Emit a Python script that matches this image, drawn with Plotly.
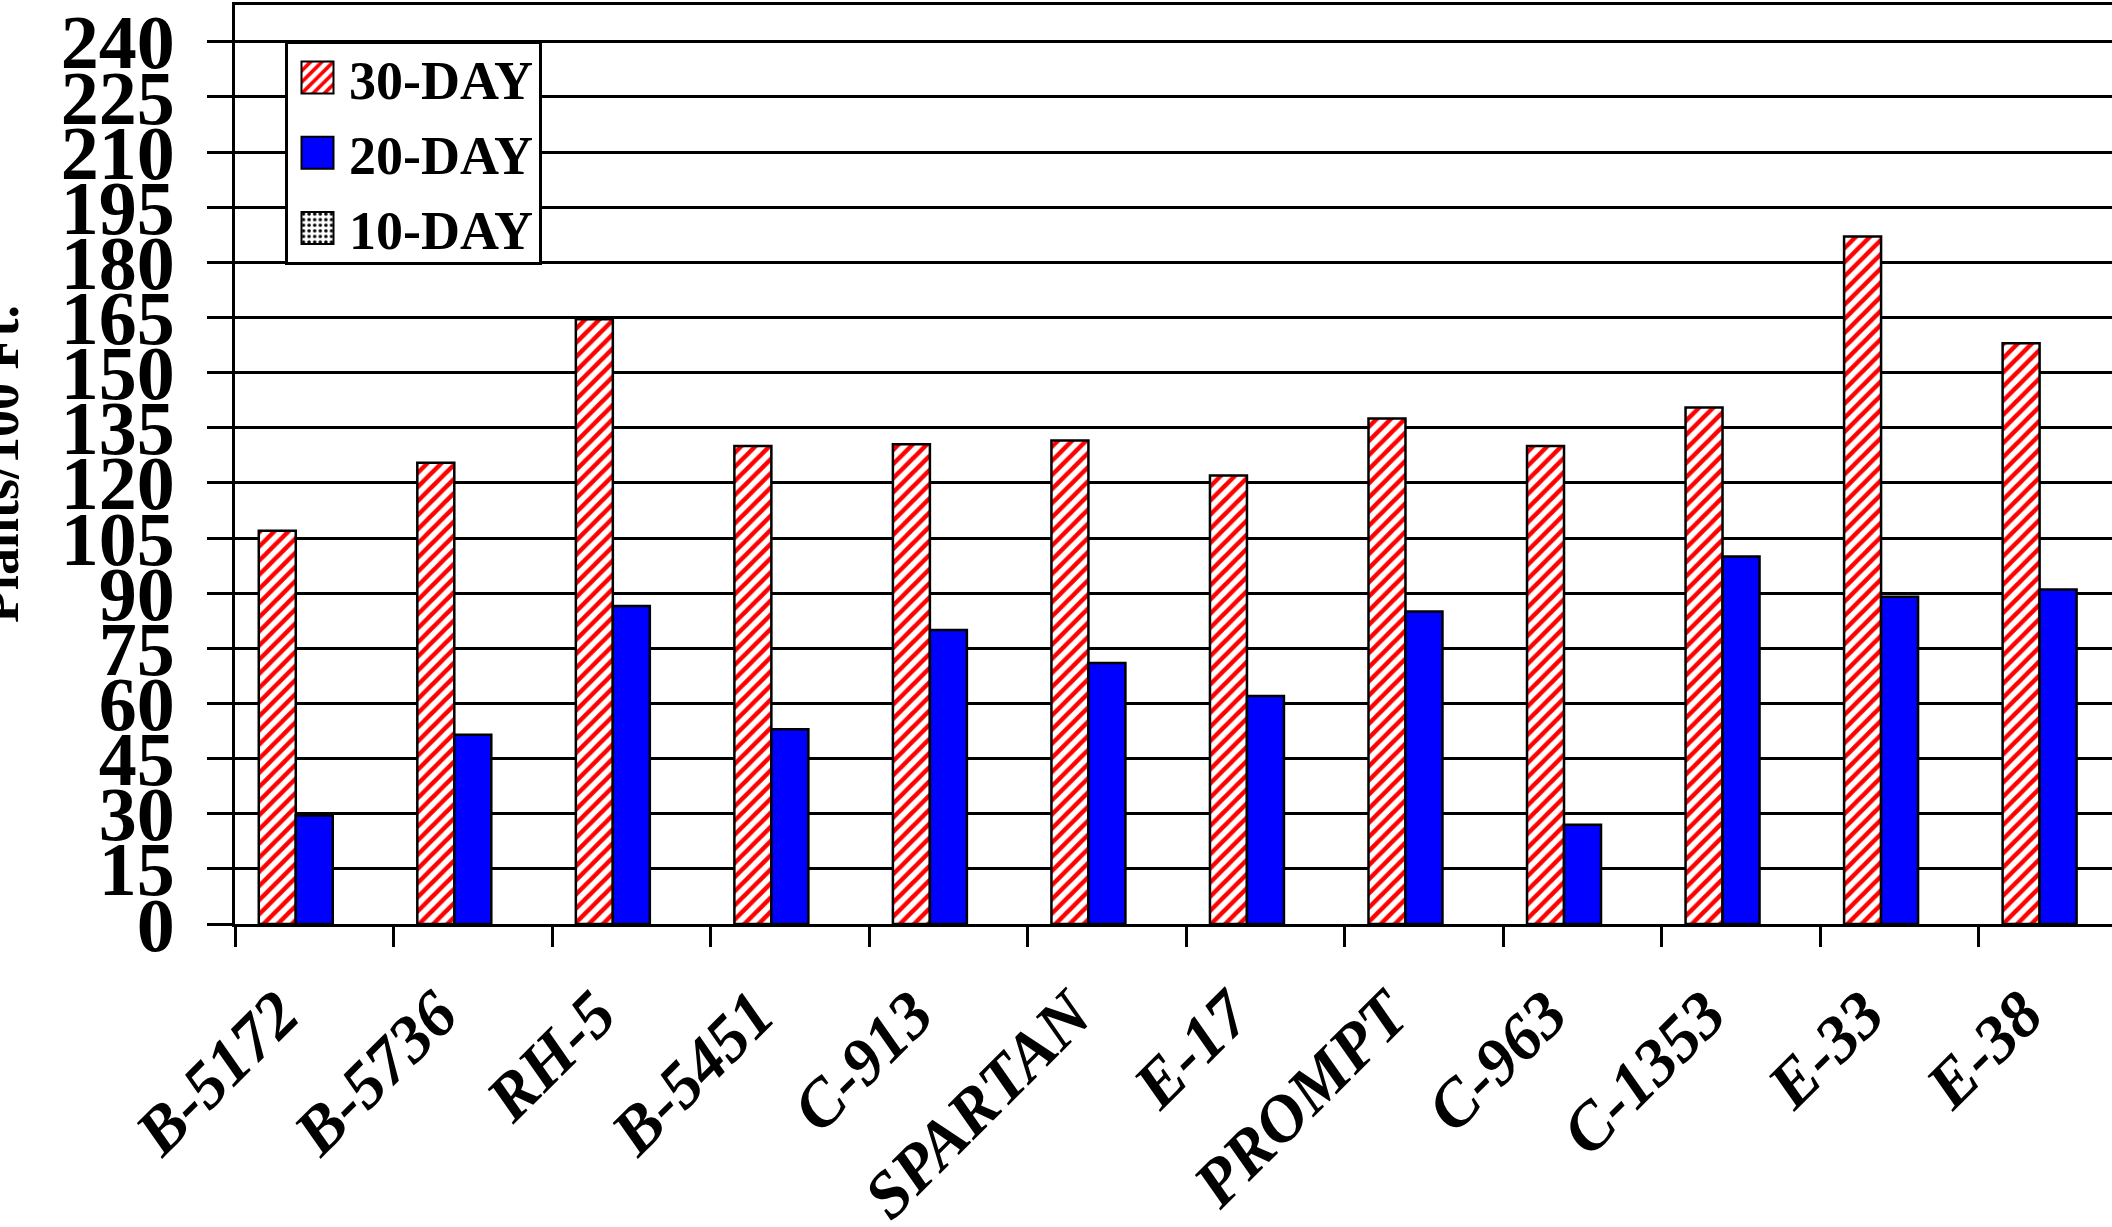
import plotly.graph_objects as go

categories = ["B-5172", "B-5736", "RH-5", "B-5451", "C-913", "SPARTAN",
              "E-17", "PROMPT", "C-963", "C-1353", "E-33", "E-38"]
day30 = [107, 125.5, 164.5, 130, 130.5, 131.5, 122, 137.5, 130, 140.5, 187, 158]
day20 = [29.5, 51.5, 86.5, 53, 80, 71, 62, 85, 27, 100, 89, 91]
day10 = [None, None, None, None, None, None, None, None, None, None, None, None]
ytick_vals = [0, 15, 30, 45, 60, 75, 90, 105, 120, 135, 150, 165, 180, 195, 210, 225, 240]

FONT = "Liberation Serif"
W, H = 2112, 1227
L, R, T, B = 235, 0, 5, 303

fig = go.Figure()
fig.add_trace(go.Bar(
    name="30-DAY", x=categories, y=day30, legendgroup="a",
    marker=dict(color="white",
                pattern=dict(shape="/", fgcolor="#ff0000", bgcolor="white",
                             size=10, solidity=0.45, fillmode="replace"),
                line=dict(color="black", width=2.5)),
))
fig.add_trace(go.Bar(
    name="20-DAY", x=categories, y=day20, legendgroup="b",
    marker=dict(color="#0000ff", line=dict(color="black", width=2.5)),
))
fig.add_trace(go.Bar(
    name="10-DAY", x=categories, y=day10, legendgroup="c",
    marker=dict(color="white",
                pattern=dict(shape=".", fgcolor="black", bgcolor="white",
                             size=7, solidity=0.3, fillmode="replace"),
                line=dict(color="black", width=2.5)),
))

plot_w = W - L - R
plot_h = H - T - B

fig.update_layout(
    width=W, height=H,
    margin=dict(l=L, r=R, t=T, b=B, pad=0, autoexpand=False),
    paper_bgcolor="white", plot_bgcolor="white",
    barmode="group", bargap=0.30, bargroupgap=0.0,
    font=dict(family=FONT, color="black", size=54, weight="bold"),
    showlegend=True,
    legend=dict(
        x=(285 - L) / plot_w, y=(H - B - 41) / plot_h,
        xanchor="left", yanchor="top",
        bgcolor="white", bordercolor="black", borderwidth=3,
        font=dict(family=FONT, size=54, color="black", weight="bold"),
        traceorder="grouped", tracegroupgap=2, itemwidth=51,
    ),
    xaxis=dict(
        type="category", range=[-0.5, 11.34], automargin=False,
        showgrid=False, showline=True, linecolor="black", linewidth=3,
        mirror=True, ticks="outside", tickson="boundaries",
        ticklen=20, tickwidth=2.5, tickcolor="black",
        tickangle=-45, ticklabelstandoff=22, ticklabelshift=-35,
        ticklabeloverflow="allow",
        tickfont=dict(family=FONT, size=66, color="black",
                      weight="bold", style="italic"),
        fixedrange=True,
    ),
    yaxis=dict(
        range=[0, 250], tickmode="array", tickvals=ytick_vals,
        ticktext=[str(v) for v in ytick_vals], automargin=False,
        showgrid=True, gridcolor="black", gridwidth=2.5,
        showline=True, linecolor="black", linewidth=3,
        ticks="outside", ticklen=25, tickwidth=2.5, tickcolor="black",
        ticklabelstandoff=17, ticklabeloverflow="allow",
        tickfont=dict(family=FONT, size=76, color="black", weight="bold"),
        zeroline=False, fixedrange=True,
    ),
    annotations=[dict(
        text="Plants/100 Ft.", xref="paper", yref="paper",
        x=(0 - L) / plot_w, y=(H - B - 464) / plot_h,
        xanchor="center", yanchor="middle", textangle=-90, showarrow=False,
        font=dict(family=FONT, size=54, color="black", weight="bold"),
    )],
)

post = """
document.body.style.margin='0';
var gd = document.getElementById('{plot_id}');
gd.querySelectorAll('g.legendpoints path').forEach(function(p){
  p.setAttribute('d', 'M16,16H-16V-16H16Z');
  p.setAttribute('transform', 'translate(29.5,0)');
  p.style.strokeWidth = '2px';
});
var leg = gd.querySelector('g.legend');
if (leg) {
  leg.querySelectorAll('g.traces').forEach(function(g){
    var t = g.getAttribute('transform') || '';
    var m = /translate\\(\\s*([-\\d.e]+)[ ,]+([-\\d.e]+)\\s*\\)/.exec(t);
    if (m) g.setAttribute('transform', 'translate(' + m[1] + ',' + (parseFloat(m[2]) - 8) + ')');
  });
  var bg = leg.querySelector('rect.bg');
  if (bg) bg.setAttribute('height', 221);
}
"""

fig.write_html("out.html", post_script=post, config={"displayModeBar": False})
